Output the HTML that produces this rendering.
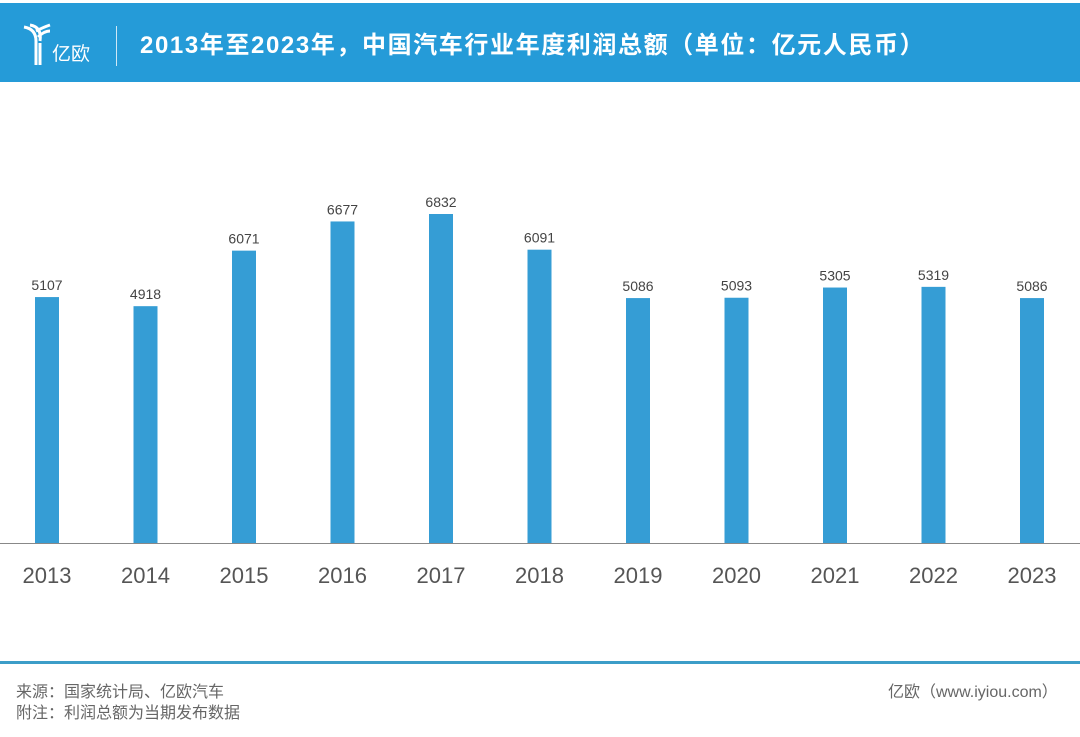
<!DOCTYPE html>
<html><head><meta charset="utf-8"><style>
body{margin:0;width:1080px;height:737px;background:#fff;overflow:hidden;position:relative;font-family:"Liberation Sans","Noto Sans CJK SC",sans-serif}
#hdr{position:absolute;left:0;top:3px;width:1080px;height:79px;background:#259bd8}
#title{position:absolute;left:140px;top:22px;color:#fff;font-size:24px;font-weight:bold;white-space:nowrap;letter-spacing:1.6px}
#logo-text{position:absolute;left:52px;top:36px;color:#fff;font-size:19px}
#sep{position:absolute;left:116px;top:23px;width:1px;height:40px;background:#cfe8f6}
#fline{position:absolute;left:0;top:661px;width:1080px;height:3px;background:#3c9dc8}
.ft{position:absolute;color:#666;font-size:16px;white-space:nowrap}
</style></head><body>
<div id="hdr">
<svg style="position:absolute;left:22px;top:20px" width="30" height="44">
<path d="M2 4 Q14 6 14 18 L14 42 M8 2 Q20 4 18 18 M14 8 Q22 4 28 2 M16 14 Q22 8 28 8 M18 42 L18 20" stroke="#fff" stroke-width="3" fill="none"/>
</svg>
<div id="logo-text">亿欧</div>
<div id="sep"></div>
<div id="title">2013年至2023年，中国汽车行业年度利润总额（单位：亿元人民币）</div>
</div>
<svg id="chart" width="1080" height="600" style="position:absolute;left:0;top:0"></svg>
<div id="fline"></div>
<div class="ft" style="left:16px;top:678px">来源：国家统计局、亿欧汽车</div>
<div class="ft" style="left:16px;top:699px">附注：利润总额为当期发布数据</div>
<div class="ft" style="left:888px;top:678px">亿欧（www.iyiou.com）</div>
<script>
const categories=["2013","2014","2015","2016","2017","2018","2019","2020","2021","2022","2023"];
const values=[5107,4918,6071,6677,6832,6091,5086,5093,5305,5319,5086];
const svg=document.getElementById('chart');
const NS='http://www.w3.org/2000/svg';
const base=543, scale=329/6832;
function x(i){return 47+i*98.5;}
function y(v){return base-v*scale;}
const ax=document.createElementNS(NS,'line');
ax.setAttribute('x1',0);ax.setAttribute('x2',1080);ax.setAttribute('y1',base+0.5);ax.setAttribute('y2',base+0.5);
ax.setAttribute('stroke','#888');ax.setAttribute('stroke-width','1');


svg.appendChild(ax);
categories.forEach((c,i)=>{
 const r=document.createElementNS(NS,'rect');
 r.setAttribute('x',x(i)-12);r.setAttribute('width',24);r.setAttribute('y',y(values[i]));r.setAttribute('height',base-y(values[i]));
 r.setAttribute('fill','#359dd5');
 
 
 svg.appendChild(r);
 const t=document.createElementNS(NS,'text');
 t.setAttribute('x',x(i));t.setAttribute('y',y(values[i])-7);t.setAttribute('text-anchor','middle');
 t.setAttribute('font-size','14');t.setAttribute('fill','#444');t.textContent=values[i];
 
 
 svg.appendChild(t);
 const l=document.createElementNS(NS,'text');
 l.setAttribute('x',x(i));l.setAttribute('y',583);l.setAttribute('text-anchor','middle');
 l.setAttribute('font-size','22');l.setAttribute('fill','#555');l.textContent=c;
 
 
 svg.appendChild(l);
});
</script>
</body></html>
